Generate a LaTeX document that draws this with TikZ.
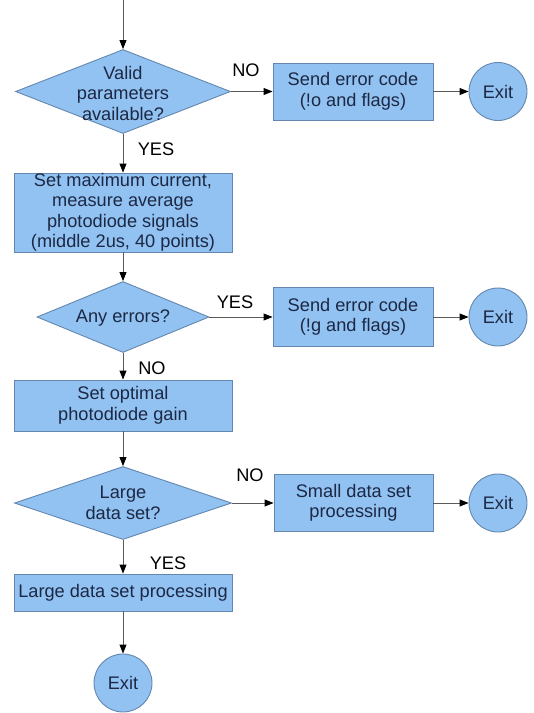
\documentclass[tikz,border=0pt]{standalone}
\usepackage{fontspec}
\setmainfont{Liberation Sans}
\usetikzlibrary{shapes.geometric,arrows.meta}
\definecolor{boxfill}{RGB}{146,194,242}
\definecolor{boxline}{RGB}{100,135,175}
\definecolor{inktext}{RGB}{28,40,68}
\definecolor{wire}{RGB}{90,90,90}
\begin{document}
\begin{tikzpicture}[x=1pt,y=-1pt,
  every node/.style={font=\fontsize{18.2}{20.5}\selectfont, text=inktext},
  procbox/.style={rectangle, draw=boxline, fill=boxfill, line width=0.9pt,
    align=center, inner sep=0pt},
  decision/.style={diamond, draw=boxline, fill=boxfill, line width=0.9pt,
    inner sep=0pt, aspect=2.5},
  dectext/.style={align=center, inner sep=0pt},
  terminal/.style={circle, draw=boxline, fill=boxfill, line width=0.9pt,
    minimum size=58pt, inner sep=0pt},
  branch/.style={text=black, inner sep=0pt},
  flow/.style={draw=wire, line width=0.9pt,
    -{Triangle[length=9pt,width=7pt,fill=black,color=black]}}
]
\useasboundingbox (0,0) rectangle (534,713);

% entry point
\coordinate (start) at (123,0);

% first decision and error branch
\node[decision, minimum width=215pt, minimum height=84pt] (d1) at (123,91.5) {};
\node[dectext] (d1t) at (123,93) {Valid\\parameters\\available?};
\node[procbox, minimum width=160pt, minimum height=57pt] (b1) at (353,91.5)
  {Send error code\\(!o and flags)};
\node[terminal] (e1) at (498,91.5) {Exit};

% measurement step
\node[procbox, minimum width=218pt, minimum height=79pt] (b2) at (123,212.5)
  {Set maximum current,\\measure average\\photodiode signals\\(middle 2us, 40 points)};

% second decision and error branch
\node[decision, minimum width=172pt, minimum height=71pt] (d2) at (123,317) {};
\node[dectext] (d2t) at (123,318) {Any errors?};
\node[procbox, minimum width=160pt, minimum height=59pt] (b3) at (353,317)
  {Send error code\\(!g and flags)};
\node[terminal] (e2) at (498,317) {Exit};

% gain step
\node[procbox, minimum width=218pt, minimum height=51pt] (b4) at (123,405.5)
  {Set optimal\\photodiode gain};

% third decision
\node[decision, minimum width=217pt, minimum height=73pt] (d3) at (123,503) {};
\node[dectext] (d3t) at (123,503) {Large\\data set?};
\node[procbox, minimum width=159pt, minimum height=57pt] (b5) at (353.5,503)
  {Small data set\\processing};
\node[terminal] (e3) at (498,503) {Exit};

% large data set path
\node[procbox, minimum width=218pt, minimum height=37pt] (b6) at (123,592.5)
  {Large data set processing};
\node[terminal] (e4) at (123,683) {Exit};

% branch labels
\node[branch] (l1) at (246,70) {NO};
\node[branch] (l2) at (156,149) {YES};
\node[branch] (l3) at (235,302) {YES};
\node[branch] (l4) at (152,368) {NO};
\node[branch] (l5) at (250,475) {NO};
\node[branch] (l6) at (168,563) {YES};

% connectors
\draw[flow] (start) -- (d1.north);
\draw[flow] (d1.east) -- (b1.west);
\draw[flow] (b1.east) -- (e1.west);
\draw[flow] (d1.south) -- (b2.north);
\draw[flow] (b2.south) -- (d2.north);
\draw[flow] (d2.east) -- (b3.west);
\draw[flow] (b3.east) -- (e2.west);
\draw[flow] (d2.south) -- (b4.north);
\draw[flow] (b4.south) -- (d3.north);
\draw[flow] (d3.east) -- (b5.west);
\draw[flow] (b5.east) -- (e3.west);
\draw[flow] (d3.south) -- (b6.north);
\draw[flow] (b6.south) -- (e4.north);
\end{tikzpicture}
\end{document}
